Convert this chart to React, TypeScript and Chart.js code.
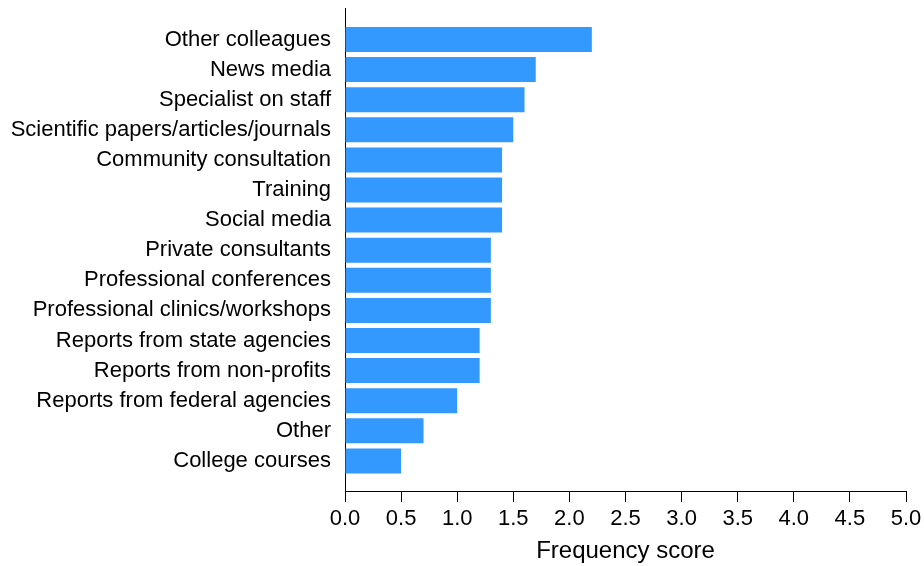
import React, { useEffect, useRef } from "react";
import { Chart, registerables } from "chart.js";

Chart.register(...registerables);

const categories: string[] = [
  "Other colleagues",
  "News media",
  "Specialist on staff",
  "Scientific papers/articles/journals",
  "Community consultation",
  "Training",
  "Social media",
  "Private consultants",
  "Professional conferences",
  "Professional clinics/workshops",
  "Reports from state agencies",
  "Reports from non-profits",
  "Reports from federal agencies",
  "Other",
  "College courses",
];

const scores: number[] = [2.2, 1.7, 1.6, 1.5, 1.4, 1.4, 1.4, 1.3, 1.3, 1.3, 1.2, 1.2, 1.0, 0.7, 0.5];

const xTickValues: number[] = [0, 0.5, 1, 1.5, 2, 2.5, 3, 3.5, 4, 4.5, 5];

const FONT = "'Liberation Sans', Arial, sans-serif";

export default function App() {
  const ref = useRef<HTMLCanvasElement | null>(null);

  useEffect(() => {
    if (!ref.current) return;
    const chart = new Chart(ref.current, {
      type: "bar",
      data: {
        datasets: [
          {
            data: scores.map((v, i) => ({ x: v, y: i })),
            backgroundColor: "#3399ff",
            borderWidth: 0,
            barPercentage: 0.83,
            categoryPercentage: 1,
          },
        ],
      },
      options: {
        indexAxis: "y",
        animation: false,
        responsive: false,
        devicePixelRatio: 1,
        layout: { padding: { top: 8, right: 18, left: 0, bottom: 0 } },
        plugins: { legend: { display: false }, tooltip: { enabled: false } },
        scales: {
          x: {
            type: "linear",
            min: 0,
            max: 5,
            bounds: "data",
            afterBuildTicks: (s: any) => {
              s.ticks = xTickValues.map((v) => ({ value: v }));
            },
            afterFit: (s: any) => {
              s.height = 75;
              s.paddingLeft = 0;
              s.paddingRight = 0;
            },
            ticks: {
              color: "#000",
              font: { family: FONT, size: 22 },
              padding: 4,
              maxRotation: 0,
              autoSkip: false,
              callback: (v: any) => Number(v).toFixed(1),
            },
            grid: {
              drawOnChartArea: false,
              drawTicks: true,
              tickLength: 11,
              color: "#000",
            },
            border: { display: true, color: "#000", width: 1 },
            title: {
              display: true,
              text: "Frequency score",
              color: "#000",
              font: { family: FONT, size: 24 },
              padding: { top: 2, bottom: 0 },
            },
          },
          y: {
            type: "linear",
            reverse: true,
            offset: false,
            min: -1.046,
            max: 15,
            bounds: "data",
            afterBuildTicks: (s: any) => {
              s.ticks = categories.map((_, i) => ({ value: i }));
            },
            afterFit: (s: any) => {
              s.width = 345;
              s.paddingTop = 0;
              s.paddingBottom = 0;
            },
            ticks: {
              color: "#000",
              font: { family: FONT, size: 22 },
              padding: 14,
              autoSkip: false,
              callback: (v: any) => {
                const i = Math.round(Number(v));
                return Math.abs(Number(v) - i) < 1e-6 && i >= 0 && i < categories.length ? categories[i] : "";
              },
            },
            grid: { display: false, drawTicks: false, offset: false },
            border: { display: true, color: "#000", width: 1 },
          },
        },
      },
    } as any);
    return () => chart.destroy();
  }, []);

  return (
    <div style={{ position: "fixed", left: 0, top: 0, width: 924, height: 566, background: "#fff" }}>
      <canvas ref={ref} width={924} height={566} style={{ display: "block" }} />
    </div>
  );
}
